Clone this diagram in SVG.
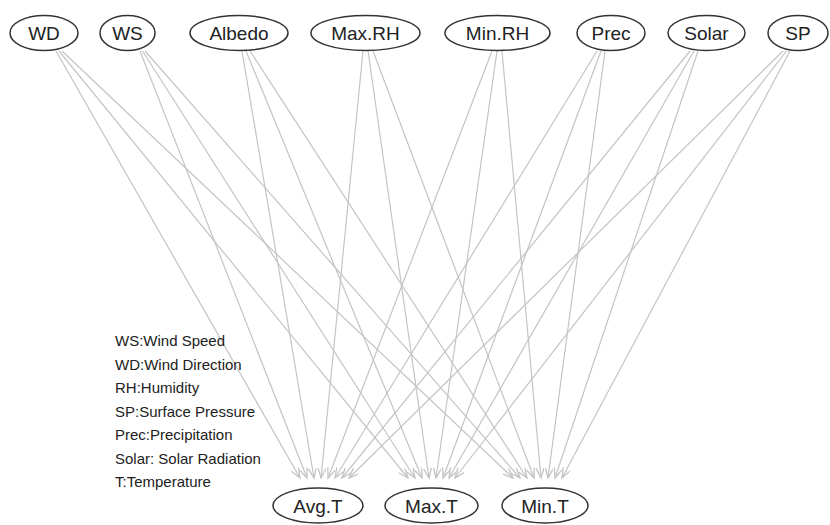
<svg xmlns="http://www.w3.org/2000/svg" width="830" height="525" viewBox="0 0 830 525">
<style>
.node ellipse{fill:#fff;stroke:#333;stroke-width:1.5}
.node text{font-family:"Liberation Sans",Arial,sans-serif;font-size:19px;fill:#222;text-anchor:middle}
.edges line{stroke:#c4c4c4;stroke-width:1.2;marker-end:url(#arr)}
.legend text{font-family:"Liberation Sans",Arial,sans-serif;font-size:15px;fill:#222}
</style>
<defs>
<marker id="arr" markerWidth="12" markerHeight="10" refX="10" refY="4" orient="auto" markerUnits="userSpaceOnUse">
<path d="M0,0 L10,4 L0,8" fill="none" stroke="#c4c4c4" stroke-width="1.3"/>
</marker>
</defs>
<rect width="830" height="525" fill="#fff"/>
<g id="connectors" class="edges">
<line x1="56" y1="51" x2="300" y2="478"/>
<line x1="59" y1="51" x2="408" y2="478"/>
<line x1="62" y1="51" x2="513" y2="478"/>
<line x1="140" y1="51" x2="307" y2="478"/>
<line x1="142.5" y1="51" x2="415" y2="478"/>
<line x1="145" y1="51" x2="520" y2="478"/>
<line x1="242" y1="51" x2="314" y2="478"/>
<line x1="246" y1="51" x2="422" y2="478"/>
<line x1="250" y1="51" x2="527" y2="478"/>
<line x1="363" y1="51" x2="321" y2="478"/>
<line x1="368" y1="51" x2="429" y2="478"/>
<line x1="373" y1="51" x2="534" y2="478"/>
<line x1="492" y1="51" x2="328" y2="478"/>
<line x1="497" y1="51" x2="436" y2="478"/>
<line x1="502" y1="51" x2="541" y2="478"/>
<line x1="597" y1="51" x2="335" y2="478"/>
<line x1="601" y1="51" x2="443" y2="478"/>
<line x1="605" y1="51" x2="548" y2="478"/>
<line x1="690" y1="51" x2="342" y2="478"/>
<line x1="694" y1="51" x2="449" y2="478"/>
<line x1="698" y1="51" x2="555" y2="478"/>
<line x1="783" y1="51" x2="349" y2="478"/>
<line x1="786.5" y1="51" x2="455" y2="478"/>
<line x1="790" y1="51" x2="562" y2="478"/>
</g>
<g id="WD" class="node"><ellipse cx="44" cy="33" rx="34" ry="17.5"/><text x="44" y="40">WD</text></g>
<g id="WS" class="node"><ellipse cx="127.5" cy="33" rx="27.5" ry="17.5"/><text x="127.5" y="40">WS</text></g>
<g id="Albedo" class="node"><ellipse cx="239" cy="33" rx="49" ry="17.5"/><text x="239" y="40">Albedo</text></g>
<g id="MaxRH" class="node"><ellipse cx="365.5" cy="33" rx="54.5" ry="17.5"/><text x="365.5" y="40">Max.RH</text></g>
<g id="MinRH" class="node"><ellipse cx="497.5" cy="33" rx="52.5" ry="17.5"/><text x="497.5" y="40">Min.RH</text></g>
<g id="Prec" class="node"><ellipse cx="611" cy="33" rx="34" ry="17.5"/><text x="611" y="40">Prec</text></g>
<g id="Solar" class="node"><ellipse cx="706.5" cy="33" rx="38.5" ry="17.5"/><text x="706.5" y="40">Solar</text></g>
<g id="SP" class="node"><ellipse cx="798" cy="33" rx="30" ry="17.5"/><text x="798" y="40">SP</text></g>
<g id="AvgT" class="node"><ellipse cx="318" cy="505.5" rx="45" ry="17.5"/><text x="318" y="512.5">Avg.T</text></g>
<g id="MaxT" class="node"><ellipse cx="431.5" cy="505.5" rx="46.5" ry="17.5"/><text x="431.5" y="512.5">Max.T</text></g>
<g id="MinT" class="node"><ellipse cx="545" cy="505.5" rx="43" ry="17.5"/><text x="545" y="512.5">Min.T</text></g>
<g id="legend" class="legend">
<text x="115" y="346">WS:Wind Speed</text>
<text x="115" y="369.5">WD:Wind Direction</text>
<text x="115" y="393">RH:Humidity</text>
<text x="115" y="416.5">SP:Surface Pressure</text>
<text x="115" y="440">Prec:Precipitation</text>
<text x="115" y="463.5">Solar: Solar Radiation</text>
<text x="115" y="487">T:Temperature</text>
</g>
</svg>
